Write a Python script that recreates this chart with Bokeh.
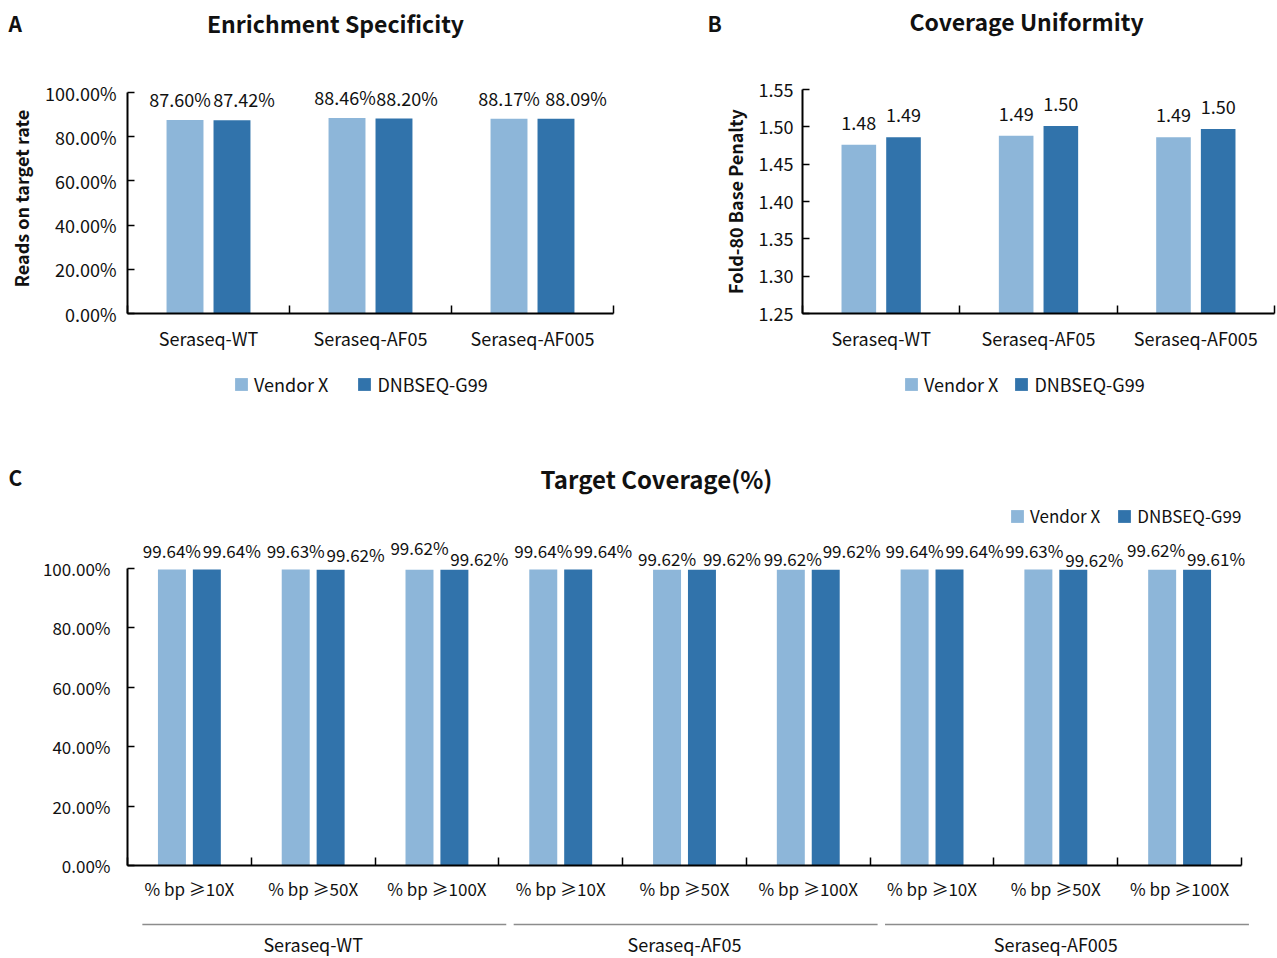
from bokeh.plotting import figure
from bokeh.models import (ColumnDataSource, Range1d, FixedTicker, NumeralTickFormatter,
                          LabelSet, Label, Legend, LegendItem)
from bokeh.layouts import column, row
from bokeh.embed import file_html
from bokeh.resources import INLINE
from bokeh.core.properties import value

# ---------------- data ----------------
samples = ["Seraseq-WT", "Seraseq-AF05", "Seraseq-AF005"]
series = ["Vendor X", "DNBSEQ-G99"]

spec_vendor = [0.8760, 0.8846, 0.8817]
spec_dnb = [0.8742, 0.8820, 0.8809]

fold80_vendor = [1.476, 1.488, 1.486]
fold80_dnb = [1.486, 1.501, 1.497]

metrics = ["% bp ≥10X", "% bp ≥50X", "% bp ≥100X"]
cov_vendor = [99.64, 99.63, 99.62, 99.64, 99.62, 99.62, 99.64, 99.63, 99.62]
cov_dnb = [99.64, 99.62, 99.62, 99.64, 99.62, 99.62, 99.64, 99.62, 99.61]

pct_ticks = [0.0, 0.2, 0.4, 0.6, 0.8, 1.0]
fold_ticks = [1.25, 1.30, 1.35, 1.40, 1.45, 1.50, 1.55]

titles = ["Enrichment Specificity", "Coverage Uniformity", "Target Coverage(%)"]
letters = ["A", "B", "C"]

# ---------------- style ----------------
FONT = "Noto Sans CJK SC"
LIGHT = "#8DB6D9"
DARK = "#3173AB"
TXT = "#111111"
W = 1277

# label nudges for panel C (pixels): vertical lift above bar, horizontal shift
c_lift_v = [19, 19, 22, 19, 11, 11, 19, 19, 20]
c_lift_d = [19, 15, 11, 19, 11, 19, 19, 10, 11]
c_shift_v = [0, 0, 0, 0, 0, 2, 0, -4, -6]
c_shift_d = [25, 25, 25, 25, 30, 26, 25, 21, 19]


def make_fig(width, height, xr, yr, left, right, top, bottom, **kw):
    p = figure(width=width, height=height, x_range=xr, y_range=yr, title=None,
               output_backend="svg", toolbar_location=None, frame_align=False,
               min_border_left=left, min_border_right=right,
               min_border_top=top, min_border_bottom=bottom, **kw)
    p.outline_line_color = None
    p.grid.grid_line_color = None
    return p


def style_x(p, n, labels, fs, standoff):
    xa = p.xaxis[0]
    centers = [i + 0.5 for i in range(n)]
    xa.ticker = FixedTicker(ticks=centers, minor_ticks=list(range(n + 1)))
    xa.major_label_overrides = {c: l for c, l in zip(centers, labels)}
    xa.bounds = (0, n)
    xa.major_tick_line_color = None
    xa.major_tick_out = 0
    xa.major_tick_in = 0
    xa.minor_tick_line_color = "black"
    xa.minor_tick_line_width = 1.5
    xa.minor_tick_in = 8
    xa.minor_tick_out = 0
    xa.axis_line_width = 2
    xa.axis_line_color = "black"
    xa.major_label_text_font = FONT
    xa.major_label_text_font_size = fs
    xa.major_label_text_color = TXT
    xa.major_label_standoff = standoff


def style_y(p, ticks, fmt, bounds, standoff, fs):
    ya = p.yaxis[0]
    ya.ticker = FixedTicker(ticks=ticks)
    ya.formatter = NumeralTickFormatter(format=fmt)
    ya.bounds = bounds
    ya.minor_tick_line_color = None
    ya.major_tick_in = 7
    ya.major_tick_out = 0
    ya.major_tick_line_width = 1.5
    ya.axis_line_width = 2
    ya.axis_line_color = "black"
    ya.major_label_text_font = FONT
    ya.major_label_text_font_size = fs
    ya.major_label_text_color = TXT
    ya.major_label_standoff = standoff
    ya.axis_label_text_font = FONT
    ya.axis_label_text_font_size = "18px"
    ya.axis_label_text_font_style = "bold"
    ya.axis_label_text_color = TXT


def make_legend(r1, r2, loc, spacing, fs):
    return Legend(items=[LegendItem(label=series[0], renderers=[r1]),
                         LegendItem(label=series[1], renderers=[r2])],
                  location=loc, orientation="horizontal",
                  glyph_width=16, glyph_height=16, label_standoff=5,
                  spacing=spacing, padding=0, margin=0,
                  border_line_color=None, background_fill_alpha=0,
                  label_text_font=FONT, label_text_font_size=fs,
                  label_text_color=TXT, label_height=16)


def add_text(p, x, y, text, size, align="center"):
    p.add_layout(Label(x=x, y=y, x_units="screen", y_units="screen", text=text,
                       text_font=FONT, text_font_size=size, text_font_style="bold",
                       text_color=TXT, text_align=align, text_baseline="middle"))


def add_bars(p, xs_v, xs_d, vals_v, vals_d, width, bottom, visible=True):
    r1 = p.vbar(x=xs_v, top=vals_v, width=width, bottom=bottom, fill_color=LIGHT,
                line_color=None, visible=visible)
    r2 = p.vbar(x=xs_d, top=vals_d, width=width, bottom=bottom, fill_color=DARK,
                line_color=None, visible=visible)
    return r1, r2


def add_values(p, xs, ys, texts, xo, yo, fs):
    src = ColumnDataSource(dict(x=xs, y=ys, text=texts, xo=xo, yo=yo))
    p.add_layout(LabelSet(x="x", y="y", text="text", source=src, x_offset="xo", y_offset="yo",
                          text_align="center", text_baseline="middle",
                          text_font=value(FONT), text_font_size=value(fs), text_color=TXT))


def strip(height):
    h = figure(width=W, height=height, x_range=Range1d(0, 1), y_range=Range1d(0, 1), title=None,
               output_backend="svg", toolbar_location=None, frame_align=False,
               x_axis_location=None, y_axis_location=None,
               min_border_left=0, min_border_right=0, min_border_top=0, min_border_bottom=0)
    h.outline_line_color = None
    h.grid.grid_line_color = None
    return h


# ---------------- header row A/B (page y 0..45) ----------------
Y_H1 = 45
h1 = strip(Y_H1)
add_text(h1, 8, Y_H1 - 22, letters[0], "21px", "left")
add_text(h1, 335, Y_H1 - 22, titles[0], "23px")
add_text(h1, 707, Y_H1 - 22, letters[1], "21px", "left")
add_text(h1, 1026, Y_H1 - 20, titles[1], "23px")

# ---------------- Panels A and B (page y 45..355) ----------------
Y_AB = 355
HA = Y_AB - Y_H1
nA = len(samples)
pA = make_fig(695, HA, Range1d(0, nA), Range1d(0, 1 + 9 / 221), 127, 82, 83 - Y_H1, Y_AB - 313)
xa_v = [i + 0.5 - 0.145 for i in range(nA)]
xa_d = [i + 0.5 + 0.145 for i in range(nA)]
rA1, rA2 = add_bars(pA, xa_v, xa_d, spec_vendor, spec_dnb, 0.228, 0)
style_x(pA, nA, samples, "18px", 11)
style_y(pA, pct_ticks, "0.00%", (0, 1), 11, "18px")
pA.yaxis[0].axis_label = "Reads on target rate"
pA.yaxis[0].axis_label_standoff = 8
add_values(pA, xa_v + xa_d, spec_vendor + spec_dnb,
           [f"{v*100:.2f}%" for v in spec_vendor + spec_dnb],
           [-5, -2, 0, 12, 13, 20], [21] * 6, "18px")

pB = make_fig(W - 695, HA, Range1d(0, nA), Range1d(1.25, 1.55), 107, 3, 89 - Y_H1, Y_AB - 313)
xb_v = [i + 0.5 - 0.142 for i in range(nA)]
xb_d = [i + 0.5 + 0.142 for i in range(nA)]
rB1, rB2 = add_bars(pB, xb_v, xb_d, fold80_vendor, fold80_dnb, 0.22, 1.25)
style_x(pB, nA, samples, "18px", 11)
style_y(pB, fold_ticks, "0.00", (1.25, 1.55), 9, "18px")
pB.yaxis[0].axis_label = "Fold-80 Base Penalty"
pB.yaxis[0].axis_label_standoff = 8
add_values(pB, xb_v + xb_d, fold80_vendor + fold80_dnb,
           [f"{v:.2f}" for v in fold80_vendor + fold80_dnb],
           [0] * 6, [22] * 6, "18px")

# ---------------- legends for A and B (page y 355..408) ----------------
Y_LEG = 408
lg = strip(Y_LEG - Y_AB)
# hidden copies of panel A's series: they only supply the legend key glyphs
kv, kd = add_bars(lg, xa_v, xa_d, spec_vendor, spec_dnb, 0.228, 0, visible=False)
lg.add_layout(make_legend(kv, kd, (233, Y_LEG - 397), 28, "18px"))
lg.add_layout(make_legend(kv, kd, (903, Y_LEG - 397), 15, "18px"))

# ---------------- header C (page y 408..498) ----------------
Y_H2 = 498
h2 = strip(Y_H2 - Y_LEG)
add_text(h2, 8, Y_H2 - 476, letters[2], "21px", "left")
add_text(h2, 656, Y_H2 - 478, titles[2], "24px")

# ---------------- Panel C (page y 498..906) ----------------
nC = len(cov_vendor)
labelsC = [metrics[i % len(metrics)] for i in range(nC)]
Y_C = 906
frame_c = 1241 - 127
pC = make_fig(W, Y_C - Y_H2, Range1d(0, nC * (1262 - 127) / frame_c),
              Range1d(0, (865 - Y_H2) / 297), 127, W - 1262, 0, Y_C - 865)
xc_v = [i + 0.5 - 0.141 for i in range(nC)]
xc_d = [i + 0.5 + 0.141 for i in range(nC)]
cv = [v / 100 for v in cov_vendor]
cd = [v / 100 for v in cov_dnb]
rC1, rC2 = add_bars(pC, xc_v, xc_d, cv, cd, 0.226, 0)
style_x(pC, nC, labelsC, "17px", 10)
style_y(pC, pct_ticks, "0.00%", (0, 1), 17, "17px")
add_values(pC, xc_v + xc_d, cv + cd,
           [f"{v:.2f}%" for v in cov_vendor + cov_dnb],
           c_shift_v + c_shift_d, c_lift_v + c_lift_d, "17px")
pC.add_layout(make_legend(rC1, rC2, (1009 - 127, 865 - 528), 16, "17px"))

# ---------------- group labels under panel C (page y 906..957) ----------------
frame_g = W - 127 - 20
pG = make_fig(W, 51, Range1d(0, nC * frame_g / frame_c), Range1d(-1, 1), 127, 20, 19, 29,
              y_axis_location=None)
ng = len(samples)
per = nC // ng
pG.segment(x0=[g * per + 0.12 for g in range(ng)], y0=[0] * ng,
           x1=[g * per + per + 0.06 for g in range(ng)], y1=[0] * ng,
           line_color="#8C8C8C", line_width=2)
gx = pG.xaxis[0]
gcent = [g * per + per / 2 for g in range(ng)]
gx.ticker = FixedTicker(ticks=gcent, minor_ticks=[])
gx.major_label_overrides = {c: s for c, s in zip(gcent, samples)}
gx.axis_line_color = None
gx.major_tick_line_color = None
gx.minor_tick_line_color = None
gx.major_tick_out = 0
gx.major_label_standoff = 5
gx.major_label_text_font = FONT
gx.major_label_text_font_size = "18px"
gx.major_label_text_color = TXT

layout = column(h1, row(pA, pB), lg, h2, pC, pG)
open("out.html", "w").write(file_html(layout, INLINE))
